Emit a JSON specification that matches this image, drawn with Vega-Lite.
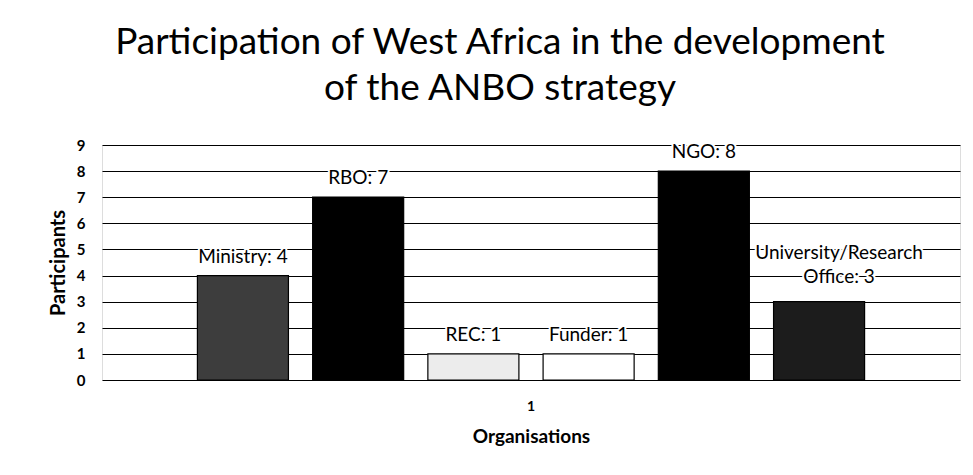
{
  "$schema": "https://vega.github.io/schema/vega-lite/v6.json",
  "autosize": "none",
  "width": 858,
  "height": 235,
  "padding": {"left": 102, "top": 145, "right": 13, "bottom": 95},
  "background": "white",
  "title": {
    "text": ["Participation of West Africa in the development", "of the ANBO strategy"],
    "font": "Lato",
    "fontSize": 37,
    "fontWeight": "normal",
    "color": "black",
    "anchor": "middle",
    "lineHeight": 46,
    "offset": 30,
    "dx": -31
  },
  "data": {
    "values": [
      {"group": "1", "org": "Ministry", "value": 4, "label": "Ministry: 4"},
      {"group": "1", "org": "RBO", "value": 7, "label": "RBO: 7"},
      {"group": "1", "org": "REC", "value": 1, "label": "REC: 1"},
      {"group": "1", "org": "Funder", "value": 1, "label": "Funder: 1"},
      {"group": "1", "org": "NGO", "value": 8, "label": "NGO: 8"},
      {"group": "1", "org": "University/Research Office", "value": 3, "label": "University/Research\nOffice: 3"}
    ]
  },
  "encoding": {
    "x": {
      "field": "group",
      "type": "nominal",
      "scale": {"paddingInner": 0, "paddingOuter": 0.143},
      "axis": {
        "title": "Organisations",
        "labelAngle": 0,
        "labelFont": "Lato",
        "labelFontSize": 14,
        "labelFontWeight": "bold",
        "labelColor": "black",
        "labelPadding": 19,
        "ticks": false,
        "domain": false,
        "titleFont": "Lato",
        "titleFontSize": 19,
        "titleFontWeight": "bold",
        "titleColor": "black",
        "titlePadding": 14
      }
    },
    "xOffset": {
      "field": "org",
      "type": "nominal",
      "sort": ["Ministry", "RBO", "REC", "Funder", "NGO", "University/Research Office"],
      "scale": {"paddingInner": 0.21, "paddingOuter": 0}
    },
    "y": {
      "field": "value",
      "type": "quantitative",
      "scale": {"domain": [0, 9], "nice": false},
      "axis": {
        "title": "Participants",
        "values": [0, 1, 2, 3, 4, 5, 6, 7, 8, 9],
        "grid": true,
        "gridColor": "black",
        "gridOpacity": 1,
        "gridWidth": 1,
        "domain": false,
        "ticks": false,
        "labelFont": "Lato",
        "labelFontSize": 15,
        "labelFontWeight": "bold",
        "labelColor": "black",
        "labelPadding": 17,
        "titleFont": "Lato",
        "titleFontSize": 20,
        "titleFontWeight": "bold",
        "titleColor": "black",
        "titlePadding": 8
      }
    }
  },
  "layer": [
    {
      "mark": {"type": "bar", "stroke": "black", "strokeWidth": 1.2},
      "encoding": {
        "color": {
          "field": "org",
          "type": "nominal",
          "scale": {
            "domain": ["Ministry", "RBO", "REC", "Funder", "NGO", "University/Research Office"],
            "range": ["#3d3d3d", "#000000", "#ececec", "#ffffff", "#000000", "#1c1c1c"]
          },
          "legend": null
        }
      }
    },
    {
      "transform": [{"filter": "datum.org !== 'University/Research Office'"}],
      "mark": {
        "type": "text",
        "font": "Lato",
        "fontSize": 19,
        "color": "black",
        "baseline": "bottom",
        "dy": -9,
        "stroke": "white",
        "strokeWidth": 4
      },
      "encoding": {"text": {"field": "label"}}
    },
    {
      "transform": [{"filter": "datum.org !== 'University/Research Office'"}],
      "mark": {
        "type": "text",
        "font": "Lato",
        "fontSize": 19,
        "color": "black",
        "baseline": "bottom",
        "dy": -9
      },
      "encoding": {"text": {"field": "label"}}
    },
    {
      "transform": [{"filter": "datum.org === 'University/Research Office'"}],
      "mark": {
        "type": "text",
        "font": "Lato",
        "fontSize": 19,
        "color": "black",
        "baseline": "bottom",
        "dy": -39,
        "dx": 20,
        "lineBreak": "\n",
        "lineHeight": 24,
        "stroke": "white",
        "strokeWidth": 4
      },
      "encoding": {"text": {"field": "label"}}
    },
    {
      "transform": [{"filter": "datum.org === 'University/Research Office'"}],
      "mark": {
        "type": "text",
        "font": "Lato",
        "fontSize": 19,
        "color": "black",
        "baseline": "bottom",
        "dy": -39,
        "dx": 20,
        "lineBreak": "\n",
        "lineHeight": 24
      },
      "encoding": {"text": {"field": "label"}}
    }
  ]
}
